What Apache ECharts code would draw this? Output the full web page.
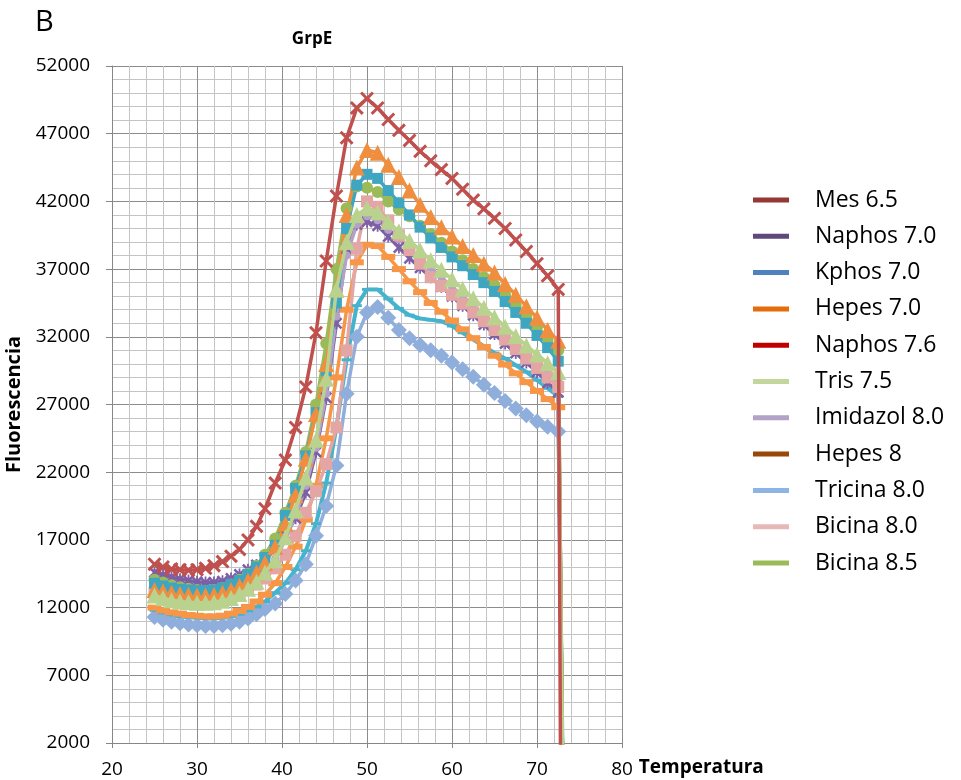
<!DOCTYPE html>
<html>
<head>
<meta charset="utf-8">
<script src="https://cdn.jsdelivr.net/npm/echarts@6/dist/echarts.min.js"></script>
<style>
  html, body { margin: 0; padding: 0; background: #ffffff; }
  #chart { width: 961px; height: 780px; }
</style>
</head>
<body>
<div id="chart"></div>
<script>
// Temperature readings (°C) shared by all buffers
const temps = [25, 26, 27, 28, 29, 30, 31, 32, 33, 34, 35, 36, 37, 38,
  39.2, 40.4, 41.6, 42.8, 44, 45.2, 46.4, 47.6, 48.8, 50,
  51.25, 52.5, 53.75, 55, 56.25, 57.5, 58.75, 60, 61.25, 62.5, 63.75, 65, 66.25, 67.5, 68.75, 70, 71.25, 72.5,
  73];

// Fluorescence per buffer
const mes65 = [15200, 15000, 14850, 14800, 14750, 14800, 14900, 15100, 15400, 15800, 16300, 17000, 18000, 19300,
  21200, 22900, 25300, 28300, 32300, 37600, 42400, 46700, 48900, 49600,
  48900, 48050, 47250, 46500, 45700, 45000, 44350, 43700, 42900, 42100, 41450, 40750, 40000, 39150, 38300, 37400, 36500, 35500,
  -30000];
const naphos70 = [14600, 14400, 14250, 14100, 14000, 13900, 13850, 13850, 13950, 14150, 14450, 14800, 15150, 15550,
  16300, 17400, 18600, 20500, 23500, 27500, 33000, 38500, 40300, 40500,
  40200, 39400, 38600, 37800, 37100, 36400, 35700, 35000, 34300, 33600, 32900, 32200, 31500, 30800, 30100, 29400, 28600, 27900,
  1000];
const kphos70 = [13800, 13600, 13450, 13350, 13300, 13250, 13250, 13300, 13450, 13700, 14000, 14450, 15000, 15700,
  16600, 18800, 20800, 23200, 26400, 29500, 34500, 40000, 43200, 44000,
  43700, 42800, 41900, 41000, 40100, 39300, 38600, 37900, 37250, 36600, 36000, 35350, 34600, 33800, 33000, 32100, 31200, 30200,
  1000];
const hepes70 = [12000, 11800, 11650, 11550, 11450, 11400, 11350, 11350, 11400, 11550, 11750, 12050, 12450, 12950,
  13800, 15000, 16500, 18500, 21000, 24500, 29000, 34000, 37500, 38800,
  38700, 37900, 37000, 36100, 35300, 34500, 33850, 33200, 32550, 31900, 31250, 30600, 29950, 29300, 28650, 28000, 27400, 26800,
  1000];
const naphos76 = [11800, 11600, 11450, 11350, 11300, 11250, 11200, 11200, 11250, 11350, 11500, 11750, 12050, 12450,
  13100, 13800, 14800, 16200, 18200, 21200, 25300, 30300, 34300, 35500,
  35500, 34800, 34100, 33600, 33350, 33250, 33150, 32800, 32300, 31800, 31300, 30800, 30400, 29900, 29400, 28800, 28200, 27600,
  1000];
const tris75 = [12900, 12700, 12550, 12450, 12400, 12350, 12350, 12400, 12500, 12700, 13000, 13400, 13900, 14600,
  15500, 17200, 19200, 21600, 24400, 28900, 35500, 39000, 41000, 41500,
  41200, 40500, 39800, 39100, 38400, 37650, 36950, 36250, 35550, 34850, 34150, 33450, 32750, 32050, 31350, 30700, 30050, 29400,
  1500];
const imidazol80 = [13000, 12800, 12650, 12550, 12500, 12450, 12450, 12500, 12600, 12800, 13100, 13500, 14000, 14700,
  15600, 17000, 18800, 21000, 23800, 27800, 33500, 38000, 40300, 40900,
  40600, 39900, 39200, 38500, 37800, 37100, 36400, 35700, 35000, 34300, 33600, 32900, 32200, 31500, 30800, 30100, 29400, 28800,
  1000];
const hepes8 = [13300, 13200, 13100, 13000, 12950, 12900, 12900, 12950, 13100, 13300, 13600, 14000, 14600, 15300,
  16500, 18200, 20300, 23000, 26300, 30000, 35500, 41000, 44500, 45800,
  45600, 44700, 43800, 42800, 41750, 40850, 40100, 39400, 38700, 38050, 37400, 36750, 35900, 35100, 34250, 33400, 32500, 31700,
  1000];
const tricina80 = [11300, 11100, 10950, 10850, 10750, 10700, 10650, 10650, 10700, 10800, 10950, 11200, 11500, 11900,
  12300, 13000, 14000, 15200, 17300, 19500, 22500, 27800, 32000, 33800,
  34200, 33400, 32500, 31900, 31400, 31000, 30600, 30100, 29600, 29050, 28450, 27850, 27250, 26700, 26200, 25750, 25350, 25000,
  1000];
const bicina80 = [13100, 12900, 12750, 12650, 12600, 12550, 12550, 12600, 12700, 12850, 13050, 13350, 13700, 14150,
  14900, 15900, 17300, 19000, 20600, 22600, 25300, 31000, 38500, 42000,
  41600, 40600, 39500, 38400, 37400, 36400, 35750, 35100, 34450, 33800, 33150, 32500, 31800, 31100, 30400, 29700, 29000, 28300,
  1000];
const bicina85 = [14050, 13850, 13650, 13500, 13400, 13300, 13250, 13300, 13450, 13700, 14050, 14500, 15100, 15900,
  17100, 19000, 21000, 23500, 27000, 31500, 37000, 41500, 43100, 43000,
  42700, 42000, 41400, 40900, 40200, 39600, 38950, 38300, 37650, 37000, 36400, 35800, 35100, 34300, 33500, 32700, 31800, 31000,
  1000];

// Legend entries, in legend order, with their swatch colours
const legendNames = ['Mes 6.5', 'Naphos 7.0', 'Kphos 7.0', 'Hepes 7.0', 'Naphos 7.6', 'Tris 7.5',
  'Imidazol 8.0', 'Hepes 8', 'Tricina 8.0', 'Bicina 8.0', 'Bicina 8.5'];
const legendColors = ['#953735', '#5F497A', '#4F81BD', '#E46C0A', '#C00000', '#C3D69B',
  '#B3A2C7', '#984807', '#8EB4E3', '#E6B9B8', '#9BBB59'];

const FONT = 'Open Sans';

// marker shapes
const crossPath = 'path://M3,0 L10,7 L17,0 L20,3 L13,10 L20,17 L17,20 L10,13 L3,20 L0,17 L7,10 L0,3 Z';
const starPath = 'path://M3,0 L10,7 L17,0 L20,3 L13,10 L20,17 L17,20 L10,13 L3,20 L0,17 L7,10 L0,3 Z M8.5,0 L11.5,0 L11.5,20 L8.5,20 Z';

function pairs(values) {
  return temps.map((t, i) => [t, values[i]]);
}

function lineSeries(name, values, color, symbol, symbolSize, extra) {
  return Object.assign({
    name: name,
    type: 'line',
    data: pairs(values),
    symbol: symbol,
    symbolSize: symbolSize,
    showSymbol: true,
    clip: true,
    smooth: false,
    lineStyle: { color: color, width: 3.5 },
    itemStyle: { color: color, borderWidth: 0 },
    emphasis: { disabled: true }
  }, extra || {});
}

// drawn from the lowest curve upward so higher curves sit on top
const series = [
  lineSeries('Tricina 8.0', tricina80, '#8FAEDB', 'diamond', 16),
  lineSeries('Naphos 7.6', naphos76, '#46B3CE', 'rect', [10, 3], { lineStyle: { color: '#46B3CE', width: 4 } }),
  lineSeries('Hepes 7.0', hepes70, '#F79646', 'rect', [14, 6]),
  lineSeries('Naphos 7.0', naphos70, '#7D5FA5', starPath, 12),
  lineSeries('Imidazol 8.0', imidazol80, '#B3A2C7', 'circle', 8),
  lineSeries('Bicina 8.0', bicina80, '#E3A6A4', 'rect', 12),
  lineSeries('Bicina 8.5', bicina85, '#9BBB59', 'circle', 12),
  lineSeries('Kphos 7.0', kphos70, '#3FA6C1', 'rect', 11),
  lineSeries('Hepes 8', hepes8, '#EE8E3E', 'triangle', 16),
  lineSeries('Tris 7.5', tris75, '#B9D38F', 'triangle', 16, { z: 10 }),
  lineSeries('Mes 6.5', mes65, '#C0504D', crossPath, 14, { z: 11 })
];

const chart = echarts.init(document.getElementById('chart'), null, { renderer: 'canvas' });

chart.setOption({
  animation: false,
  backgroundColor: '#ffffff',
  textStyle: { fontFamily: FONT, color: '#000' },
  title: {
    text: 'GrpE',
    left: 307,
    top: 26,
    textAlign: 'center',
    textStyle: { fontFamily: FONT, fontSize: 17, fontWeight: 'bold', color: '#000' }
  },
  graphic: [{
    type: 'text',
    left: 35,
    top: 8,
    style: { text: 'B', fontFamily: FONT, fontSize: 29, fill: '#000' }
  }],
  legend: {
    orient: 'vertical',
    left: 748,
    top: 183,
    icon: 'rect',
    itemWidth: 36,
    itemHeight: 5,
    itemGap: 12.3,
    selectedMode: false,
    textStyle: { fontFamily: FONT, fontSize: 23, color: '#000', lineHeight: 24, padding: [0, 0, 0, 21] },
    data: legendNames.map((n, i) => ({ name: n, itemStyle: { color: legendColors[i] } }))
  },
  grid: { left: 112, right: 339, top: 66, bottom: 37, containLabel: false, outerBoundsMode: 'none' },
  xAxis: {
    type: 'value',
    min: 20,
    max: 80,
    interval: 10,
    name: 'Temperatura',
    nameLocation: 'end',
    nameGap: 15,
    nameTextStyle: { fontFamily: FONT, fontSize: 19, fontWeight: 'bold', color: '#000',
      align: 'left', verticalAlign: 'top', padding: [15, 0, 0, 0] },
    axisLine: { show: true, onZero: false, lineStyle: { color: '#868686', width: 1 } },
    axisTick: { show: true, length: 5, lineStyle: { color: '#868686' } },
    axisLabel: { fontFamily: FONT, fontSize: 19, color: '#000', margin: 17 },
    splitLine: { show: true, lineStyle: { color: '#8c8c8c', width: 1 } },
    minorTick: { show: false, splitNumber: 5 },
    minorSplitLine: { show: true, lineStyle: { color: '#c4c4c4', width: 1 } }
  },
  yAxis: {
    type: 'value',
    min: 2000,
    max: 52000,
    interval: 5000,
    name: 'Fluorescencia',
    nameLocation: 'middle',
    nameRotate: 90,
    nameGap: 85,
    nameTextStyle: { fontFamily: FONT, fontSize: 20, fontWeight: 'bold', color: '#000' },
    axisLine: { show: true, lineStyle: { color: '#868686', width: 1 } },
    axisTick: { show: true, length: 6, lineStyle: { color: '#868686' } },
    axisLabel: { fontFamily: FONT, fontSize: 19, color: '#000', margin: 22,
      formatter: v => String(v) },
    splitLine: { show: true, lineStyle: { color: '#8c8c8c', width: 1 } },
    minorTick: { show: false, splitNumber: 5 },
    minorSplitLine: { show: true, lineStyle: { color: '#c4c4c4', width: 1 } }
  },
  series: series
});
</script>
</body>
</html>
